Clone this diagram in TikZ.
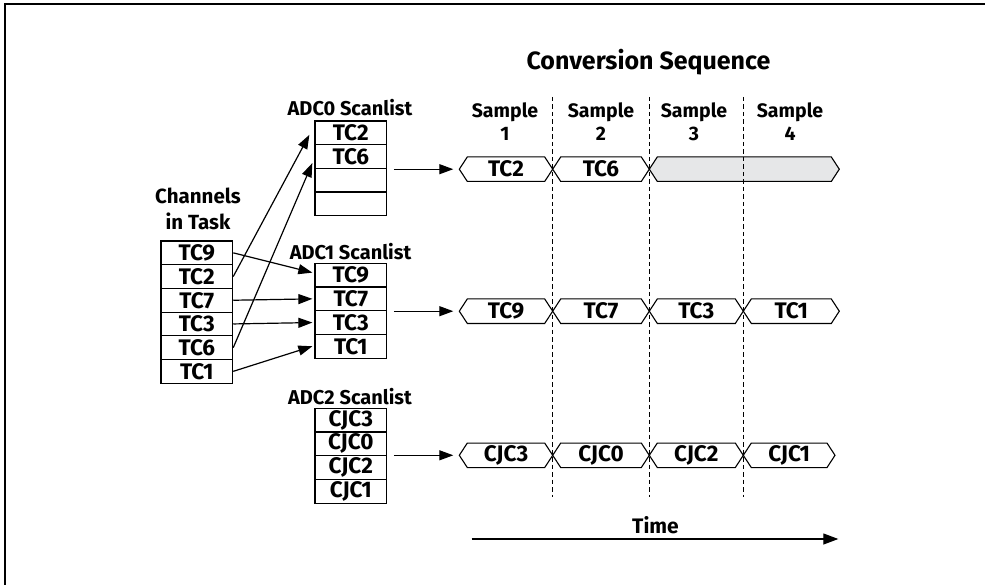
\documentclass[tikz,border=0pt]{standalone}
\usepackage{fontspec}
\setmainfont{Fira Sans}
\usetikzlibrary{arrows.meta,calc}
\definecolor{boxgray}{HTML}{E6E7E8}
\newcommand{\hexcell}[6]{%
  \draw[hexline, fill=#6] (#1,#3) -- ({#1+8},{#3-12.25}) -- ({#2-8},{#3-12.25}) -- (#2,#3) -- ({#2-8},{#3+12.25}) -- ({#1+8},{#3+12.25}) -- cycle;
  \coordinate (#4-w) at (#1,#3);
  \node[tltext] (#4) at ({(#1+#2)/2},#3) {#5};
}
\begin{document}
\begin{tikzpicture}[x=1pt,y=-1pt,
  cell/.style={draw, line width=1.2pt, minimum width=71.7pt, minimum height=23.7pt, inner sep=0pt, font=\fontsize{22.5}{22.5}\selectfont\bfseries},
  lbl/.style={inner sep=0pt, font=\fontsize{20}{20}\selectfont\bfseries},
  title/.style={inner sep=0pt, font=\fontsize{25}{25}\selectfont\bfseries},
  tltext/.style={inner sep=0pt, font=\fontsize{22.5}{22.5}\selectfont\bfseries},
  hexline/.style={line width=1.1pt},
  conn/.style={line width=1.2pt, -{Triangle[length=14pt,width=10pt]}},
  dashline/.style={line width=1.1pt, dash pattern=on 4.5pt off 3pt},
]
\useasboundingbox (0,0) rectangle (985,585);
\draw[line width=2pt] (5,585) -- (5,4) -- (985,4);

% title and sample labels
\node[title, anchor=base] (ttl) at (648.5,70) {Conversion Sequence};
\node[lbl, align=center, font=\fontsize{19.5}{23.3}\selectfont\bfseries] (s1) at (505,121.5) {Sample\\1};
\node[lbl, align=center, font=\fontsize{19.5}{23.3}\selectfont\bfseries] (s2) at (601,121.5) {Sample\\2};
\node[lbl, align=center, font=\fontsize{19.5}{23.3}\selectfont\bfseries] (s3) at (694,121.5) {Sample\\3};
\node[lbl, align=center, font=\fontsize{19.5}{23.3}\selectfont\bfseries] (s4) at (790,121.5) {Sample\\4};

% channels in task
\node[lbl, align=center, font=\fontsize{20.5}{26.7}\selectfont\bfseries] (chl) at (198,208.8) {Channels\\in Task};
\node[cell] (c1) at (196.8,252.85) {TC9};
\node[cell] (c2) at (196.8,276.55) {TC2};
\node[cell] (c3) at (196.8,300.25) {TC7};
\node[cell] (c4) at (196.8,323.95) {TC3};
\node[cell] (c5) at (196.8,347.65) {TC6};
\node[cell] (c6) at (196.8,371.35) {TC1};

% ADC0
\node[lbl, anchor=base] (a0l) at (350,116) {ADC0 Scanlist};
\node[cell] (a1) at (350.8,132.85) {TC2};
\node[cell] (a2) at (350.8,156.55) {TC6};
\node[cell] (a3) at (350.8,180.25) {};
\node[cell] (a4) at (350.8,203.95) {};

% ADC1
\node[lbl, anchor=base] (b0l) at (350.5,260) {ADC1 Scanlist};
\node[cell] (b1) at (350.8,275.15) {TC9};
\node[cell] (b2) at (350.8,298.85) {TC7};
\node[cell] (b3) at (350.8,322.55) {TC3};
\node[cell] (b4) at (350.8,346.25) {TC1};

% ADC2
\node[lbl, anchor=base] (d0l) at (350,404) {ADC2 Scanlist};
\node[cell] (d1) at (350.8,420.15) {CJC3};
\node[cell] (d2) at (350.8,443.85) {CJC0};
\node[cell] (d3) at (350.8,467.55) {CJC2};
\node[cell] (d4) at (350.8,491.25) {CJC1};

% channel connectors
\draw[conn] (c1.east) -- ([xshift=-2pt,yshift=2.5pt]b1.west);
\draw[conn] (c2.east) -- ([xshift=-5pt,yshift=-2pt]a1.west);
\draw[conn] (c3.east) -- ([xshift=-2pt]b2.west);
\draw[conn] (c4.east) -- ([xshift=-2pt]b3.west);
\draw[conn] (c5.east) -- ([xshift=-2pt,yshift=-6.5pt]a2.west);
\draw[conn] (c6.east) -- ([xshift=-2pt]b4.west);

% timelines
\hexcell{459.3}{552.7}{169.2}{t01}{TC2}{white}
\hexcell{552.7}{649.3}{169.2}{t02}{TC6}{white}
\hexcell{649.3}{839.3}{169.2}{t03}{}{boxgray}

\hexcell{459.3}{552.7}{311.2}{t11}{TC9}{white}
\hexcell{552.7}{649.3}{311.2}{t12}{TC7}{white}
\hexcell{649.3}{743.3}{311.2}{t13}{TC3}{white}
\hexcell{743.3}{839.3}{311.2}{t14}{TC1}{white}

\hexcell{459.3}{552.7}{455.3}{t21}{CJC3}{white}
\hexcell{552.7}{649.3}{455.3}{t22}{CJC0}{white}
\hexcell{649.3}{743.3}{455.3}{t23}{CJC2}{white}
\hexcell{743.3}{835}{455.3}{t24}{CJC1}{white}

% scanlist to timeline arrows
\coordinate (o0) at (t01-w -| a2.east);
\coordinate (o1) at (t11-w -| b2.east);
\coordinate (o2) at (t21-w -| d2.east);
\draw[conn] ([xshift=6.5pt]o0) -- ([xshift=-6pt]t01-w);
\draw[conn] ([xshift=6.5pt]o1) -- ([xshift=-6pt]t11-w);
\draw[conn] ([xshift=6.5pt]o2) -- ([xshift=-6pt]t21-w);

% dashed separators
\draw[dashline] (552.7,97) -- (552.7,497);
\draw[dashline] (649.3,97) -- (649.3,497);
\draw[dashline] (743.3,97) -- (743.3,497);

% time arrow
\node[lbl, anchor=base, font=\fontsize{21}{21}\selectfont\bfseries] (time) at (655.5,533.3) {Time};
\coordinate (ts) at (471.7,539);
\coordinate (te) at (838.3,539);
\draw[conn, -{Triangle[length=15pt,width=11pt]}] (ts) -- (te);
\end{tikzpicture}
\end{document}
